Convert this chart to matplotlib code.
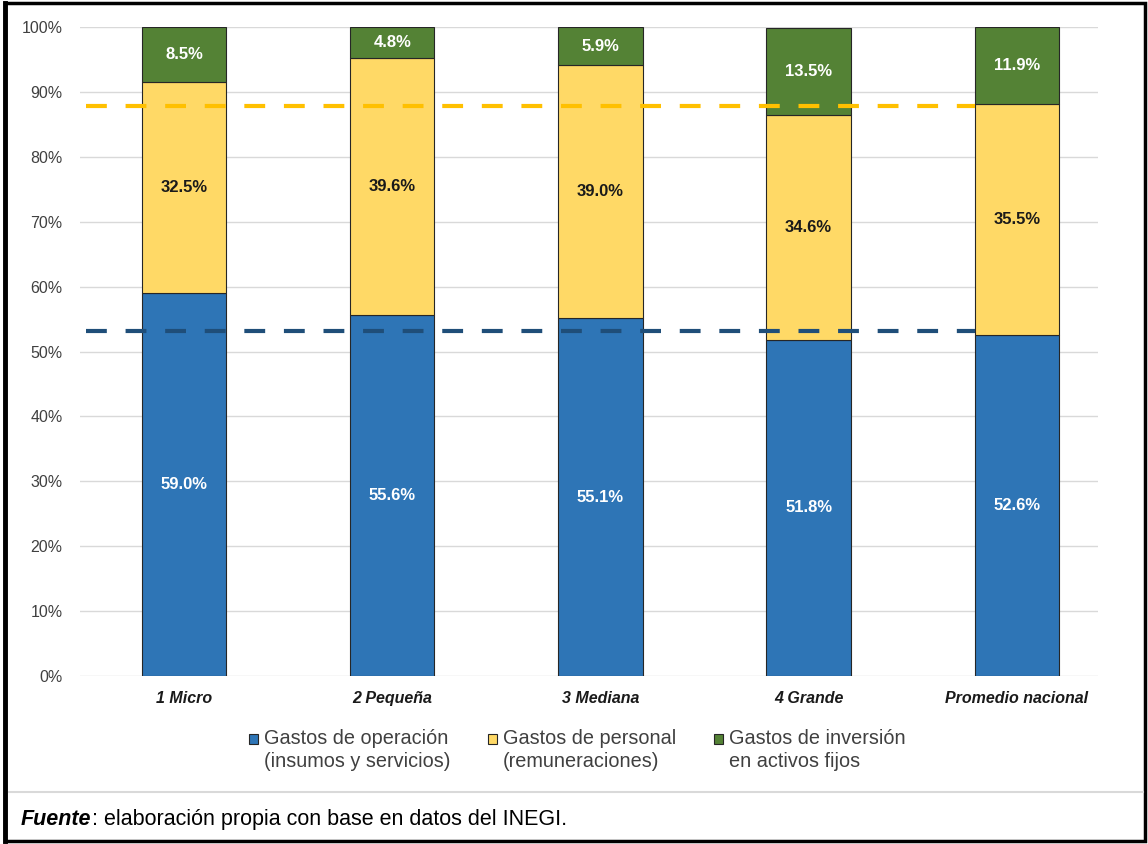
import numpy as np
import matplotlib
matplotlib.use("Agg")
from matplotlib import pyplot as plt
from matplotlib.patches import Rectangle, Patch
from matplotlib.lines import Line2D
from matplotlib.legend_handler import HandlerPatch
from matplotlib.ticker import PercentFormatter

plt.rcParams['font.family'] = ['Liberation Sans', 'DejaVu Sans']

# data (percent of total spending)
categorias = ['1 Micro', '2 Pequeña', '3 Mediana', '4 Grande', 'Promedio nacional']
operacion = [59.0, 55.6, 55.1, 51.8, 52.6]
personal = [32.5, 39.6, 39.0, 34.6, 35.5]
inversion = [8.5, 4.8, 5.9, 13.5, 11.9]
series_nombres = ['Gastos de operación\n(insumos y servicios)',
                  'Gastos de personal\n(remuneraciones)',
                  'Gastos de inversión\nen activos fijos']
# reference lines (dashed)
ref_operacion = 53.2
ref_personal = 87.9

col_azul = '#2E75B6'
col_amarillo = '#FFD966'
col_verde = '#548235'

fig = plt.figure(figsize=(11.48, 8.44), dpi=100)
ax = fig.add_axes([80/1148, 1-676/844, 1018/1148, 649/844])

x = np.arange(len(categorias))
w = 0.405
op = np.array(operacion)
pe = np.array(personal)
inv = np.array(inversion)

ax.bar(x, op, w, color=col_azul, edgecolor='#262626', linewidth=0.8, zorder=2)
ax.bar(x, pe, w, bottom=op, color=col_amarillo, edgecolor='#262626', linewidth=0.8, zorder=2)
ax.bar(x, inv, w, bottom=op+pe, color=col_verde, edgecolor='#262626', linewidth=0.8, zorder=2)

for i in range(len(x)):
    ax.text(x[i], op[i]/2, '%.1f%%' % op[i], ha='center', va='center',
            color='white', fontsize=12, fontweight='bold', zorder=4)
    ax.text(x[i], op[i] + pe[i]/2, '%.1f%%' % pe[i], ha='center', va='center',
            color='#1a1a1a', fontsize=12, fontweight='bold', zorder=4)
    ax.text(x[i], op[i] + pe[i] + inv[i]/2, '%.1f%%' % inv[i], ha='center', va='center',
            color='white', fontsize=12, fontweight='bold', zorder=4)

# dashed reference lines, stop at the national average bar
x_fin = x[-1] - w/2
ax.plot([-0.47, x_fin], [ref_personal, ref_personal], color='#FFC000', lw=3,
        dashes=(5, 4.5), zorder=3)
ax.plot([-0.47, x_fin], [ref_operacion, ref_operacion], color='#1F4E79', lw=3,
        dashes=(5, 4.5), zorder=3)

ax.set_xlim(-0.5, 4.39)
ax.set_ylim(0, 100)
ax.set_yticks(np.arange(0, 101, 10))
ax.yaxis.set_major_formatter(PercentFormatter(decimals=0))
ax.grid(axis='y', color='#D9D9D9', lw=1, zorder=0)
ax.set_axisbelow(True)
for s in ax.spines.values():
    s.set_visible(False)
ax.tick_params(axis='both', length=0)
ax.tick_params(axis='y', labelsize=11.5, labelcolor='#404040', pad=12.5)
ax.set_xticks(x)
ax.set_xticklabels(categorias, fontsize=11.5, fontweight='bold', fontstyle='italic', color='#1a1a1a')
ax.tick_params(axis='x', pad=11)


# legend squares sit on the first text line
def cuadro_arriba(legend, orig_handle, xdescent, ydescent, width, height, fontsize):
    return Rectangle((-xdescent, -ydescent + 8.5), width, height)


handles = [Patch(facecolor=c, edgecolor='#262626', lw=0.8) for c in (col_azul, col_amarillo, col_verde)]
leg = fig.legend(handles, series_nombres, loc='center', bbox_to_anchor=(0.503, 0.111), ncol=3,
                 frameon=False, fontsize=14.3, labelcolor='#404040', handlelength=0.45,
                 handleheight=0.45, handletextpad=0.3, columnspacing=1.9,
                 handler_map={Patch: HandlerPatch(patch_func=cuadro_arriba)})
for t in leg.get_texts():
    t.set_linespacing(1.25)

# separator and outer border
fig.add_artist(Line2D([0.004, 0.996], [1-792/844, 1-792/844], color='#D9D9D9', lw=1.5))
fig.add_artist(Rectangle((0.004, 0.003), 0.993, 0.994, fill=False, edgecolor='black', lw=2.5))
fig.add_artist(Line2D([0.0045, 0.0045], [0.003, 0.997], color='black', lw=3.5))

t1 = fig.text(21/1148, 1-830/844, 'Fuente', fontsize=15.5, fontweight='bold',
              fontstyle='italic', va='bottom', ha='left')
ax.annotate(': elaboración propia con base en datos del INEGI.', xy=(1, 0), xycoords=t1,
            va='bottom', ha='left', fontsize=15.5, annotation_clip=False)

fig.savefig('out.png', dpi=100)
